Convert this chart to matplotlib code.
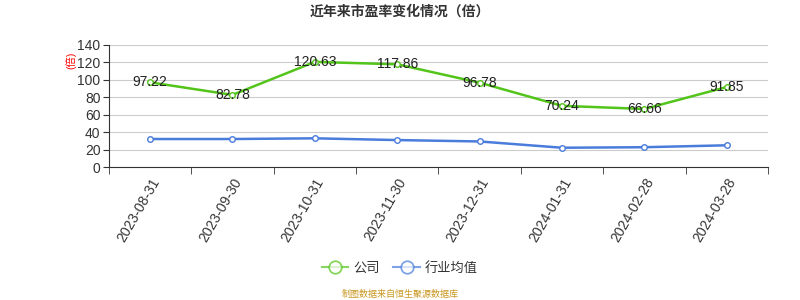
import matplotlib
matplotlib.use('Agg')
import matplotlib.pyplot as plt
from matplotlib.lines import Line2D
import numpy as np

plt.rcParams['font.family'] = ['Liberation Sans', 'Noto Sans CJK SC', 'DejaVu Sans']

dates = ['2023-08-31', '2023-09-30', '2023-10-31', '2023-11-30',
         '2023-12-31', '2024-01-31', '2024-02-28', '2024-03-28']
company = [97.22, 82.78, 120.63, 117.86, 96.78, 70.24, 66.66, 91.85]
industry = [32.2, 32.2, 33.0, 31.0, 29.4, 22.2, 22.8, 25.0]

green = '#52c41a'
blue = '#4a7cdc'

fig = plt.figure(figsize=(8, 3), dpi=100)
ax = fig.add_axes([0.136, 0.443, 0.824, 0.407])

x = np.arange(len(dates))
ax.plot(x, company, color=green, lw=1.8, marker='o', ms=4,
        mfc='white', mec=green, mew=1, zorder=3)
ax.plot(x, industry, color=blue, lw=1.8, marker='o', ms=4,
        mfc='white', mec=blue, mew=1, zorder=3)

for xi, v in zip(x, company):
    ax.text(xi, v, f'{v:.2f}', ha='center', va='center', fontsize=10,
            color='#222222', zorder=4)

ax.set_xlim(-0.5, len(dates) - 0.5)
ax.set_ylim(0, 140)
ax.set_yticks(range(0, 141, 20))
ax.set_xticks(x)
ax.set_xticklabels(dates, rotation=60, ha='right', rotation_mode='anchor',
                   fontsize=10, color='#333333')
ax.set_xticks(np.arange(-0.5, len(dates), 1), minor=True)
ax.tick_params(axis='x', which='major', length=0, pad=6)
ax.tick_params(axis='x', which='minor', length=5, color='#333333')
ax.tick_params(axis='y', labelsize=10, labelcolor='#333333', length=4,
               color='#333333', pad=2)

ax.grid(axis='y', color='#cccccc', lw=0.8)
ax.set_axisbelow(True)
for s in ['top', 'right']:
    ax.spines[s].set_visible(False)
ax.spines['left'].set_color('#333333')
ax.spines['bottom'].set_color('#333333')

fig.text(0.089, 0.80, '(倍)', color='red', fontsize=7.5, rotation=90,
         ha='center', va='center')

fig.suptitle('近年来市盈率变化情况（倍）', y=0.985, fontsize=10,
             fontweight='bold', color='#333333')

handles = [
    Line2D([], [], color=green, lw=1.5, alpha=0.7, marker='o', ms=9,
           mfc='white', mec=green, mew=1.3),
    Line2D([], [], color=blue, lw=1.5, alpha=0.7, marker='o', ms=9,
           mfc='white', mec=blue, mew=1.3),
]
fig.legend(handles, ['公司', '行业均值'], loc='center',
           bbox_to_anchor=(0.5, 0.105), ncol=2, frameon=False,
           fontsize=9.5, handlelength=2.0, columnspacing=1.0,
           handletextpad=0.4, labelcolor='#333333')

fig.text(0.5, 0.017, '制图数据来自恒生聚源数据库', ha='center', va='center',
         fontsize=6.5, color='#c8961e')

fig.savefig('out.png', dpi=100)
